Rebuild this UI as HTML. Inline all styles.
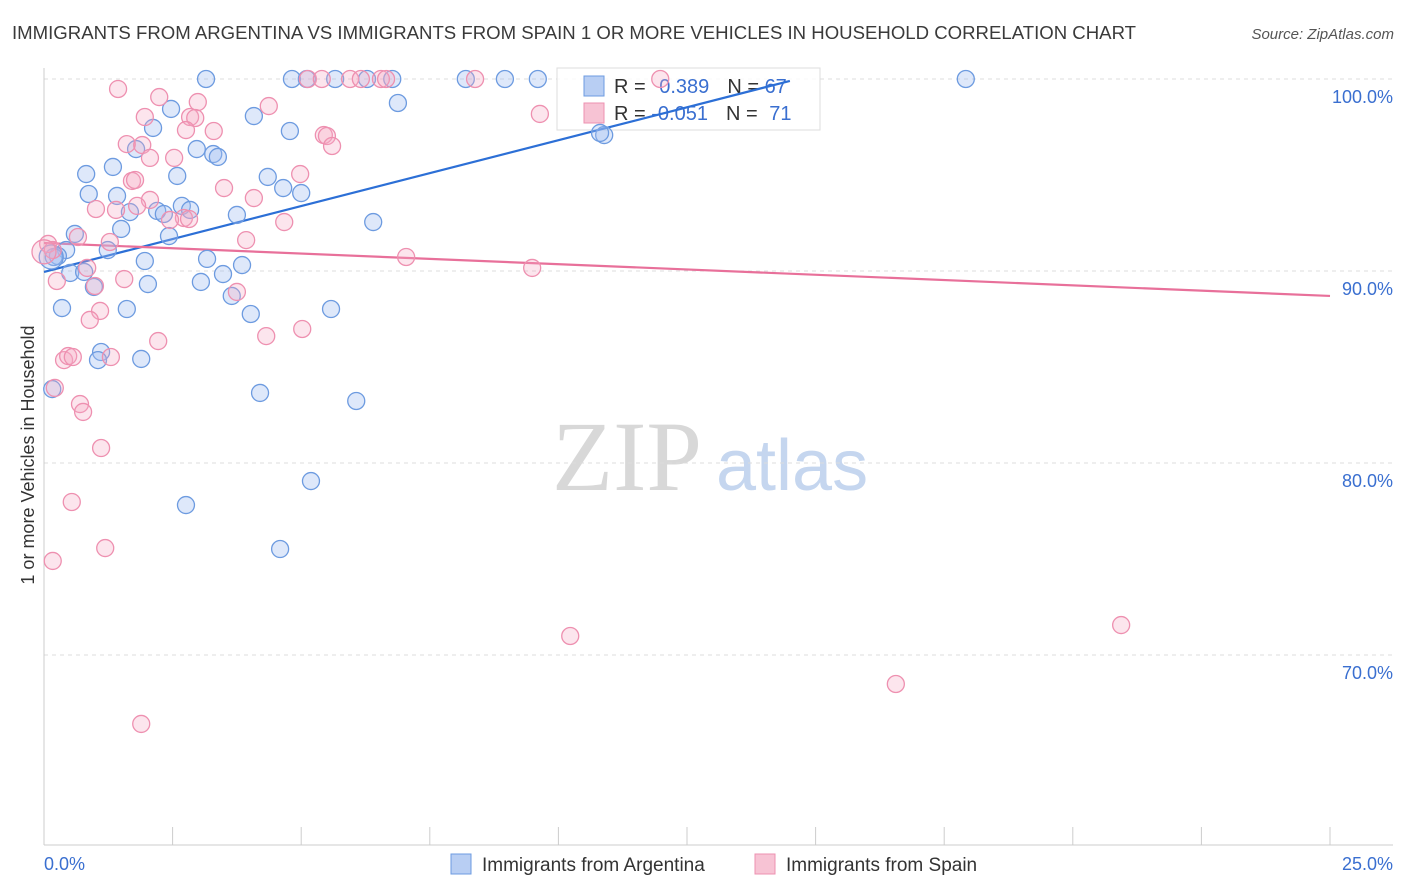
<!DOCTYPE html>
<html><head><meta charset="utf-8"><style>
body{margin:0;background:#fff;font-family:"Liberation Sans",sans-serif;}
svg{display:block}
</style></head><body>
<svg id="chart" width="1406" height="892">
<text x="12" y="39" font-size="18.6" fill="#3a3a3a">IMMIGRANTS FROM ARGENTINA VS IMMIGRANTS FROM SPAIN 1 OR MORE VEHICLES IN HOUSEHOLD CORRELATION CHART</text>
<text x="1394" y="39" font-size="15" fill="#555" font-style="italic" text-anchor="end">Source: ZipAtlas.com</text>
<text transform="translate(34,455) rotate(-90)" font-size="18" fill="#333" text-anchor="middle">1 or more Vehicles in Household</text>
<g>
<text x="552" y="490" font-family="Liberation Serif,serif" font-size="100" fill="#d8d8d8">ZIP</text>
<text x="716" y="490" font-size="72" fill="#c5d6ef">atlas</text>
</g>
<g id="grid"></g><g id="axes"></g>
<g>
<rect x="557" y="68" width="263" height="62" fill="rgba(255,255,255,0.85)" stroke="#ddd"/>
<rect x="584" y="76" width="20" height="20" fill="#b8cef3" stroke="#6d9be0"/>
<rect x="584" y="103" width="20" height="20" fill="#f7c3d4" stroke="#ee90b0"/>
<text x="614" y="93" font-size="20" fill="#333">R = <tspan fill="#3a6fd0" dx="8">0.389</tspan><tspan dx="18">N = </tspan><tspan fill="#3a6fd0">67</tspan></text>
<text x="614" y="120" font-size="20" fill="#333">R = <tspan fill="#3a6fd0">-0.051</tspan><tspan dx="18">N = </tspan><tspan fill="#3a6fd0" dx="6">71</tspan></text>
</g>
<g id="lines"></g><g id="points"></g>
<g>
<rect x="451" y="854" width="20" height="20" fill="#b8cef3" stroke="#6d9be0"/>
<text x="482" y="871" font-size="19" fill="#333">Immigrants from Argentina</text>
<rect x="755" y="854" width="20" height="20" fill="#f7c3d4" stroke="#ee90b0"/>
<text x="786" y="871" font-size="19" fill="#333">Immigrants from Spain</text>
</g>
</svg>
<script>
const yTicks=[70,80,90,100];
const blueX=[3.15,4.82,5.11,5.66,6.28,6.77,8.20,8.96,9.60,17.92,6.88,2.47,4.08,2.12,4.78,10.89,10.81,1.79,2.97,3.29,3.38,1.34,0.82,2.59,4.35,4.65,1.42,0.87,5.00,2.68,2.20,1.67,2.33,2.84,3.75,6.40,1.50,0.60,2.43,0.43,1.24,0.27,0.19,1.96,3.17,3.85,0.51,0.78,3.48,3.05,2.02,0.97,3.65,0.35,1.61,4.02,5.58,1.11,1.05,1.89,0.16,4.20,6.07,5.19,2.76,4.59,0.14];
const blueY=[100,100,100,100,100,100,100,100,100,100,98.75,98.44,98.07,97.45,97.29,97.08,97.19,96.35,96.35,96.09,95.94,95.42,95.05,94.95,94.90,94.32,93.91,94.01,94.06,93.39,93.13,93.07,92.97,93.18,92.92,92.55,92.19,91.93,91.82,91.09,91.09,90.78,90.73,90.52,90.63,90.31,89.90,89.95,89.84,89.43,89.32,89.17,88.70,88.07,88.02,87.76,88.02,85.78,85.36,85.42,83.85,83.65,83.23,79.06,77.81,75.52,90.73];
const pinkX=[1.44,2.24,2.99,1.96,4.37,2.84,2.94,2.76,3.30,1.61,1.91,2.06,2.53,5.44,5.50,5.60,4.98,1.71,1.77,3.50,4.08,2.06,1.01,1.40,1.81,2.72,2.45,2.82,4.67,0.66,3.93,1.28,0.08,7.04,9.49,0.84,0.25,1.56,3.75,0.99,1.09,0.89,2.22,4.32,5.02,0.39,0.47,0.56,1.30,0.21,0.70,0.76,1.11,0.54,1.19,0.17,1.89,10.23,20.94,16.56,9.64,5.13,5.40,5.95,6.16,6.55,6.65,8.38,11.98,0.17,0.0];
const pinkY=[99.48,99.06,98.80,98.02,98.59,98.02,97.97,97.34,97.29,96.61,96.56,95.89,95.89,97.08,97.03,96.51,95.05,94.69,94.74,94.32,93.80,93.70,93.23,93.18,93.39,92.76,92.66,92.71,92.55,91.77,91.61,91.51,91.41,90.73,90.16,90.16,89.48,89.58,88.91,89.22,87.92,87.45,86.35,86.61,86.98,85.36,85.57,85.52,85.52,83.91,83.07,82.66,80.78,77.97,75.57,74.90,66.41,70.99,71.56,68.49,98.18,100,100,100,100,100,100,100,100,91.09,91.0];
const blueTrend=[[0,89.95],[14.5,99.9]];
const pinkTrend=[[0,91.46],[25,88.70]];
const X=v=>44+v*51.44, Y=v=>79+(100-v)*19.2;
const NS="http://www.w3.org/2000/svg";
function mk(t,a,p){const e=document.createElementNS(NS,t);for(const k in a)e.setAttribute(k,a[k]);document.getElementById(p).appendChild(e);return e;}
yTicks.forEach(t=>{
 const g=mk('line',{x1:44,x2:1393,y1:Y(t),y2:Y(t),stroke:'#dcdcdc','stroke-dasharray':'4,4'},'grid');
 
 
 const l=mk('text',{x:1393,y:Y(t)+24,'font-size':18,fill:'#3a6fd0','text-anchor':'end'},'grid');
 l.textContent=t.toFixed(1)+'%';
 
 
});
mk('line',{x1:44,x2:44,y1:68,y2:845,stroke:'#ccc'},'axes');
mk('line',{x1:44,x2:1393,y1:845,y2:845,stroke:'#ccc'},'axes');
for(let i=0;i<=10;i++){const t=mk('line',{x1:X(i*2.5),x2:X(i*2.5),y1:827,y2:845,stroke:'#ccc'},'axes');
 
 }
let a=mk('text',{x:44,y:870,'font-size':18,fill:'#3a6fd0'},'axes');a.textContent='0.0%';


a=mk('text',{x:1393,y:870,'font-size':18,fill:'#3a6fd0','text-anchor':'end'},'axes');a.textContent='25.0%';


function pts(xs,ys,fill,stroke,name){xs.forEach((x,i)=>{
 const big=i===xs.length-1;
 const c=mk('circle',{cx:X(x),cy:Y(ys[i]),r:big?12:8.5,fill:fill,stroke:stroke,'stroke-width':1.3},'points');
 
 });}
pts(blueX,blueY,'rgba(160,190,240,0.35)','#6d9be0','point-argentina');
pts(pinkX,pinkY,'rgba(245,170,195,0.3)','#ee90b0','point-spain');
let l=mk('line',{x1:X(blueTrend[0][0]),y1:Y(blueTrend[0][1]),x2:X(blueTrend[1][0]),y2:Y(blueTrend[1][1]),stroke:'#2c6fd6','stroke-width':2.2},'lines');


l=mk('line',{x1:X(pinkTrend[0][0]),y1:Y(pinkTrend[0][1]),x2:X(pinkTrend[1][0]),y2:Y(pinkTrend[1][1]),stroke:'#e8709a','stroke-width':2.2},'lines');


</script>
</body></html>
